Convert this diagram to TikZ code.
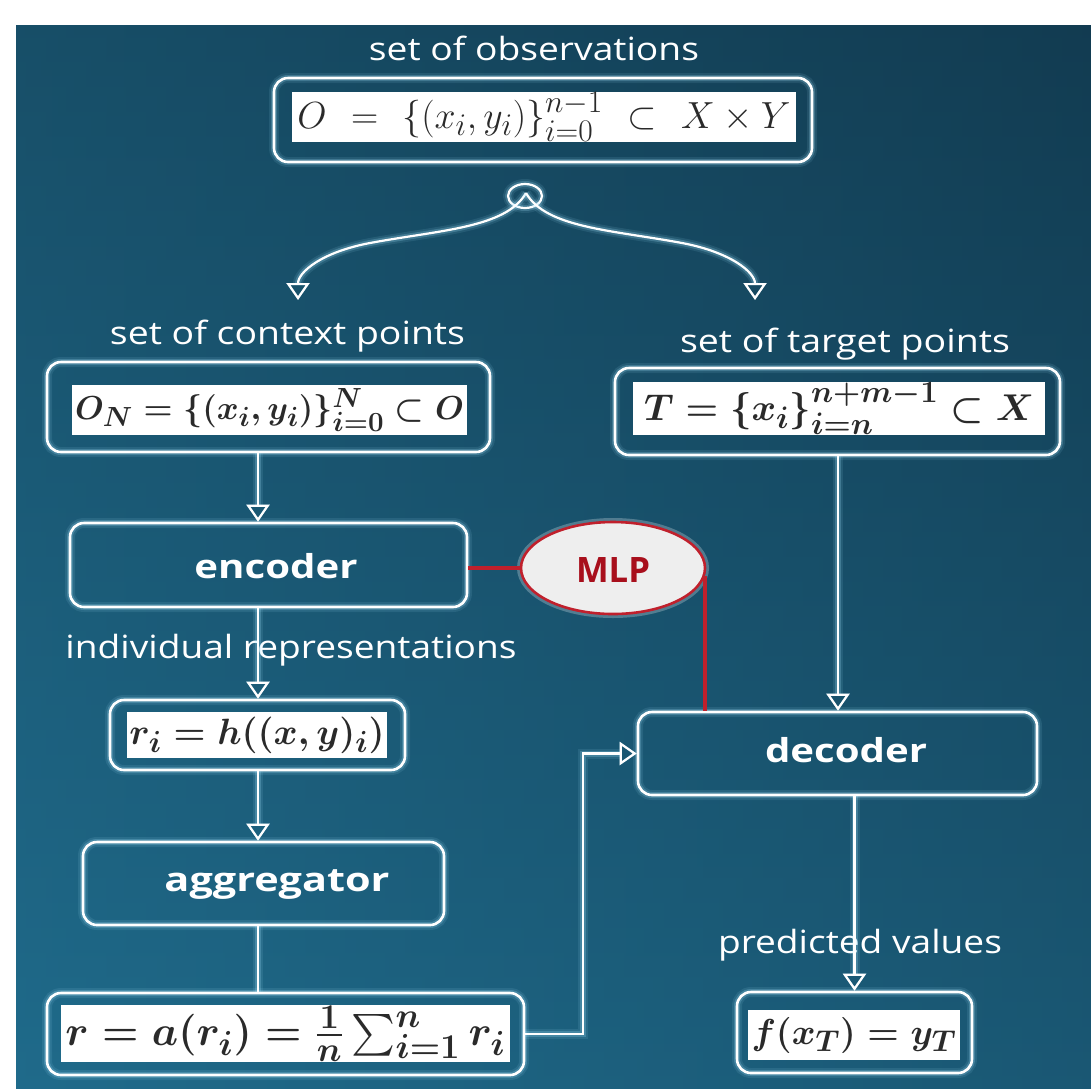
\documentclass[tikz,border=0pt]{standalone}
\usepackage[no-math]{fontspec}
\usepackage{amsmath}
\usepackage{graphicx}
\usetikzlibrary{arrows.meta,shapes.geometric,calc}
\newfontfamily\lblfont{Open Sans}
\definecolor{bgT}{HTML}{133D53}
\definecolor{bgB}{HTML}{1F6888}
\definecolor{bgL}{HTML}{207090}
\definecolor{bgR}{HTML}{113A4F}
\definecolor{glowc}{HTML}{A8E6FF}
\definecolor{mlpred}{HTML}{C0202C}
\definecolor{mlptext}{HTML}{A80F1C}
\definecolor{mlpfill}{HTML}{EEEEEE}
\definecolor{fmlc}{HTML}{2A2A2A}
\newcommand\lbl[2]{\resizebox{#1}{\height}{#2}}
\newcommand\fml[2]{\resizebox{#1}{!}{$#2$}}
\newcommand\fmlb[2]{\resizebox{#1}{!}{\mathversion{bold}$#2$}}
\tikzset{
  glow/.style={preaction={draw=glowc, line width=10pt, opacity=0.10},
               preaction={draw=glowc, line width=6pt, opacity=0.22}},
  box/.style={draw=white, line width=2.6pt, rounded corners=14pt, glow, inner sep=0pt},
  wbox/.style={fill=white, inner sep=0pt, text=fmlc, font=\fontsize{30}{36}\selectfont},
  con/.style={draw=white, line width=2.2pt, glow},
  arr/.style={con, -{Triangle[open, length=17pt, width=23pt, line width=2.2pt]}},
  lbl/.style={text=white, font=\lblfont\fontsize{32}{38}\selectfont, inner sep=0pt},
  blbl/.style={text=white, font=\lblfont\bfseries\fontsize{33}{38}\selectfont, inner sep=0pt},
  redline/.style={draw=mlpred, line width=4pt},
}
\begin{document}
\begin{tikzpicture}[x=1pt,y=-1pt]
\useasboundingbox (0,0) rectangle (1091,1088);
\fill[white] (0,0) rectangle (1091,1088);
\shade[top color=bgT, bottom color=bgB] (16,25) rectangle (1091,1088);
\shade[left color=bgL, right color=bgR, opacity=0.35] (16,25) rectangle (1091,1088);

% column coordinates
\coordinate (colx) at (258,0);
\coordinate (colt) at (838,0);
\coordinate (rb) at (583,1034);

% top: observations
\node[lbl, anchor=base] (tObs) at (534,60) {\lbl{330pt}{set of observations}};
\node[box, minimum width=538pt, minimum height=84pt] (obs) at (543,120) {};
\node[wbox, minimum width=504pt, minimum height=50pt] (obsF) at (544,117) {\fml{493pt}{O \ = \ \{(x_i, y_i)\}_{i=0}^{n-1} \ \subset \ X \times Y}};

% split
\node[draw=white, line width=2.2pt, ellipse, minimum width=34pt, minimum height=24pt, inner sep=0pt, glow] (split) at (525,196) {};
\coordinate (apex) at (526,193);
\coordinate (la) at (298,300);
\coordinate (ra) at (755,300);
\draw[arr] (apex) .. controls (506,228) and (440,230) .. (370,243)
                  .. controls (322,252) and (298,272) .. (la);
\draw[arr] (apex) .. controls (546,228) and (612,230) .. (682,243)
                  .. controls (730,252) and (755,272) .. (ra);

% context
\node[lbl, anchor=base] (tCtx) at (287.5,344) {\lbl{355pt}{set of context points}};
\node[box, minimum width=443pt, minimum height=90pt] (ctx) at (268.5,407) {};
\node[wbox, minimum width=395pt, minimum height=50pt] (ctxF) at (269.5,410) {\fmlb{389pt}{O_N=\{(x_i,y_i)\}_{i=0}^{N}\subset O}};

% target
\node[lbl, anchor=base] (tTgt) at (845,352) {\lbl{330pt}{set of target points}};
\node[box, minimum width=445pt, minimum height=87pt] (tgt) at (837.5,411.5) {};
\node[wbox, minimum width=412pt, minimum height=53pt] (tgtF) at (839,408.5) {\fmlb{390pt}{T=\{x_i\}_{i=n}^{n+m-1}\subset X}};

% encoder
\node[box, minimum width=397pt, minimum height=84pt] (enc) at (268.5,565) {};
\node[blbl, anchor=base] (tEnc) at (276,578) {\lbl{163pt}{encoder}};

% MLP
\node[ellipse, draw=mlpred, line width=2.6pt, fill=mlpfill, minimum width=184pt, minimum height=92pt, inner sep=0pt,
      preaction={draw=white, line width=8pt, opacity=0.25}] (mlp) at (613,568) {};
\node[text=mlptext, font=\lblfont\bfseries\fontsize{35}{40}\selectfont, inner sep=0pt, anchor=base] (tMlp) at (613,582) {\lbl{74pt}{MLP}};

% individual representations
\node[lbl, anchor=base] (tInd) at (291,658) {\lbl{451pt}{individual representations}};
\node[box, minimum width=295pt, minimum height=70pt] (ri) at (257.5,735) {};
\node[wbox, minimum width=260pt, minimum height=46pt] (riF) at (257,735) {\fmlb{255pt}{r_i=h((x,y)_i)}};

% aggregator
\node[box, minimum width=361pt, minimum height=83pt] (agg) at (263.5,883.5) {};
\node[blbl, anchor=base] (tAgg) at (277,891) {\lbl{225pt}{aggregator}};

% r
\node[box, minimum width=477pt, minimum height=82pt] (r) at (285.5,1034) {};
\node[wbox, minimum width=449pt, minimum height=57pt] (rF) at (285.5,1033.5) {\fmlb{440pt}{r=a(r_i)=\tfrac{1}{n}\textstyle\sum_{i=1}^{n} r_i}};

% decoder
\node[box, minimum width=399pt, minimum height=83pt] (dec) at (837.5,753.5) {};
\node[blbl, anchor=base] (tDec) at (846,762) {\lbl{162pt}{decoder}};

% predicted
\node[lbl, anchor=base] (tPred) at (860,953) {\lbl{284pt}{predicted values}};
\node[box, minimum width=235pt, minimum height=81pt] (f) at (854.5,1032.5) {};
\node[wbox, minimum width=212pt, minimum height=50pt] (fF) at (854,1035) {\fmlb{205pt}{f(x_T)=y_T}};

% connectors
\draw[arr] (ctx.south -| colx) -- (enc.north -| colx);
\draw[arr] (enc.south -| colx) -- (ri.north -| colx);
\draw[arr] (ri.south -| colx) -- (agg.north -| colx);
\draw[con] (agg.south -| colx) -- (r.north -| colx);
\draw[arr] (r.east) -- (rb) |- (dec.west);
\draw[arr] (tgt.south -| colt) -- (dec.north -| colt);
\draw[arr] (dec.south -| f.north) -- (f.north);
\draw[redline] (mlp.west) -- (mlp.west -| enc.east);
\draw[redline] (mlp.-5) -- (mlp.-5 |- dec.north);
\end{tikzpicture}
\end{document}
